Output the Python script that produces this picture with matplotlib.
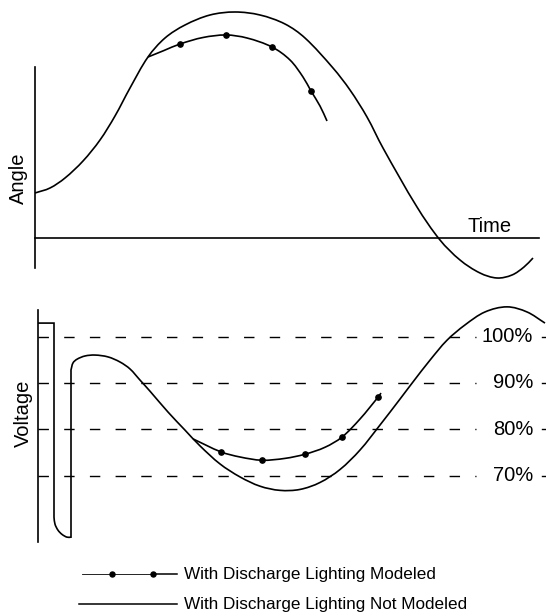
import matplotlib
matplotlib.use("Agg")
import numpy as np
import matplotlib.pyplot as plt
from matplotlib.lines import Line2D
from matplotlib.path import Path
from matplotlib.patches import PathPatch

plt.rcParams['font.family'] = ['Liberation Sans', 'DejaVu Sans']

# ---------------- data (arbitrary time / angle / voltage units) ----------------
angle_time = [0, 3, 6, 9.6, 13, 16, 19, 22.6, 26, 30, 35, 40, 45, 50, 54, 59.6, 63,
              66.4, 69.6, 76.4, 81, 85, 89, 92.4, 95.4, 97.8, 99.6]
angle_not_modeled = [22.5, 25, 30, 38.5, 49, 61, 75, 90.5, 100, 106.5, 111.5, 113,
                     111.5, 107, 100, 85, 74, 60.5, 45, 15.5, -1, -11, -17.5, -20,
                     -18.5, -14.5, -10]

angle_mod_time = [22.6, 25.8, 29, 33.6, 38.2, 42.4, 47.4, 51, 53.6, 55.2, 57, 58.4]
angle_modeled = [90.5, 93.75, 97, 100.25, 101.5, 100, 95.5, 89, 80.5, 73.5, 66, 58.5]
angle_mod_markers = [2, 4, 6, 9]

volt_time = [0.6, 3.8, 3.8, 4.0, 4.6, 5.4, 6.4, 7.2, 7.2, 7.6, 8.4, 10, 12, 14.6, 17,
             19, 21, 23, 26.6, 30, 33, 37, 41, 45, 49, 53, 57, 61, 65, 69, 73, 75.6,
             79, 82.4, 86, 90, 94.4, 98.4, 102]
volt_not_modeled = [102.9, 102.9, 61.0, 59.5, 58.2, 57.3, 56.7, 56.7, 92.8, 94.3, 95.1,
                    95.8, 96.0, 95.6, 94.5, 93.0, 90.6, 88.2, 83.7, 79.8, 76.4, 72.5,
                    69.7, 67.7, 66.8, 67.0, 68.5, 71.3, 75.5, 80.9, 86.5, 90.2, 94.9,
                    99.2, 102.5, 105.3, 106.4, 105.3, 102.9]
volt_corners = [1, 2, 7, 8]

volt_mod_time = [31.6, 37.2, 41.0, 45.4, 50.0, 54.0, 58.0, 61.4, 65.0, 68.6, 69.2]
volt_modeled = [77.9, 75.1, 74.0, 73.3, 73.7, 74.6, 76.1, 78.3, 82.2, 86.9, 87.8]
volt_mod_markers = [1, 3, 5, 7, 9]

volt_levels = [100, 90, 80, 70]
volt_labels = ['100%', '90%', '80%', '70%']

legend_labels = ['With Discharge Lighting Modeled', 'With Discharge Lighting Not Modeled']

# ---------------- figure ----------------
W, H = 546, 616
fig = plt.figure(figsize=(W / 100, H / 100), dpi=100)

def fx(px):
    return px / W

def fy(py):
    return 1 - py / H

LW = 1.2
XLIM = (-7, 102.2)


def smooth_curve(ax, xs, ys, corners=(), **kw):
    """Draw a smooth Bezier curve through the given points (corners stay sharp)."""
    pts = ax.transData.transform(np.column_stack([xs, ys]))
    n = len(pts)
    corners = set(corners) | {0, n - 1}
    dirs = []
    for i in range(n):
        if i in corners:
            dirs.append(None)
        else:
            d = pts[i + 1] - pts[i - 1]
            dirs.append(d / np.hypot(*d))
    verts = [pts[0]]
    codes = [Path.MOVETO]
    for i in range(n - 1):
        p1, p2 = pts[i], pts[i + 1]
        seg = p2 - p1
        L = np.hypot(*seg)
        d1 = seg / L if dirs[i] is None else dirs[i]
        d2 = seg / L if dirs[i + 1] is None else dirs[i + 1]
        verts += [p1 + d1 * L / 3, p2 - d2 * L / 3, p2]
        codes += [Path.CURVE4] * 3
    verts = ax.transData.inverted().transform(np.array(verts))
    ax.add_patch(PathPatch(Path(verts, codes), fill=False, **kw))


# ----- top panel: angle -----
ax1 = fig.add_axes([0, fy(290), 1, 290 / H])
ax1.set_xlim(*XLIM)
ax1.set_ylim(-26, 119)
ax1.axis('off')
ax1.plot([0, 0], [-15, 85.5], color='black', lw=LW)          # y axis
ax1.plot([0, 100.8], [0, 0], color='black', lw=LW)          # time axis
smooth_curve(ax1, angle_time, angle_not_modeled, edgecolor='black', lw=LW)
smooth_curve(ax1, angle_mod_time, angle_modeled, corners=[0], edgecolor='black', lw=LW)
ax1.plot(np.array(angle_mod_time)[angle_mod_markers],
         np.array(angle_modeled)[angle_mod_markers],
         ls='none', marker='o', markersize=3.8, color='black')
ax1.text(86.4, 3, 'Time', fontsize=14.5, ha='left', va='baseline')
ax1.text(fx(18.5), fy(178), 'Angle', transform=fig.transFigure, fontsize=14.5,
         rotation=90, ha='center', va='center')

# ----- bottom panel: voltage -----
ax2 = fig.add_axes([0, fy(560), 1, 265 / H])
ax2.set_xlim(*XLIM)
ax2.set_ylim(51.77, 108.96)
ax2.axis('off')
ax2.plot([0.6, 0.6], [55.6, 105.7], color='black', lw=LW)    # y axis
for lev, lab in zip(volt_levels, volt_labels):
    ax2.plot([0.6, 88.2], [lev, lev], color='black', lw=1.0,
             linestyle=(0, (7.5, 11)))
    ax2.plot([101.4, 103], [lev, lev], color='black', lw=1.0)
    ax2.text(99.6, lev, lab, fontsize=14.5, ha='right', va='center')
smooth_curve(ax2, volt_time, volt_not_modeled, corners=volt_corners,
             edgecolor='black', lw=LW)
smooth_curve(ax2, volt_mod_time, volt_modeled, corners=[0], edgecolor='black', lw=LW)
ax2.plot(np.array(volt_mod_time)[volt_mod_markers],
         np.array(volt_modeled)[volt_mod_markers],
         ls='none', marker='o', markersize=3.8, color='black')
ax2.text(fx(23), fy(413), 'Voltage', transform=fig.transFigure, fontsize=14.5,
         rotation=90, ha='center', va='center')

# ----- legend -----
y1, y2 = 574, 604
fig.add_artist(Line2D([fx(82), fx(153)], [fy(y1), fy(y1)], color='black', lw=0.6,
                      transform=fig.transFigure))
fig.add_artist(Line2D([fx(153), fx(177)], [fy(y1), fy(y1)], color='black', lw=1.1,
                      transform=fig.transFigure))
fig.add_artist(Line2D([fx(112), fx(153)], [fy(y1), fy(y1)], color='black', lw=0,
                      marker='o', markersize=3.6, transform=fig.transFigure))
fig.add_artist(Line2D([fx(79), fx(177)], [fy(y2), fy(y2)], color='black', lw=1.1,
                      transform=fig.transFigure))
fig.text(fx(184), fy(y1), legend_labels[0], fontsize=12.3, ha='left', va='center')
fig.text(fx(184), fy(y2), legend_labels[1], fontsize=12.3, ha='left', va='center')

fig.savefig('out.png', dpi=100, facecolor='white')
